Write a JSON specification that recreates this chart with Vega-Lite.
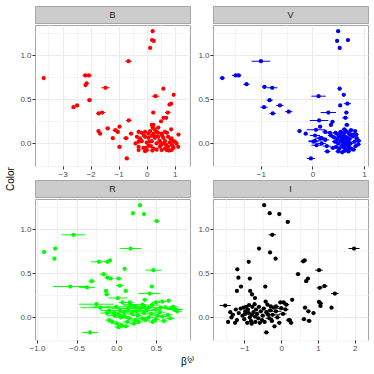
{
"$schema":"https://vega.github.io/schema/vega-lite/v6.json",
"padding":{"left":6,"top":5,"right":3,"bottom":4},
"config":{"font":"Liberation Sans","view":{"stroke":"#A6A6A6"},
"axis":{"labelFontSize":8,"labelColor":"#4D4D4D","tickColor":"#333333","tickSize":3,"domain":false,"grid":true,"labelOverlap":false,"gridColor":{"condition":{"test":"(datum.value*2) % 1 !== 0","value":"#F4F4F4"},"value":"#EBEBEB"},"labelPadding":1,"tickOpacity":{"condition":{"test":"(datum.value*2) % 1 !== 0","value":0},"value":1},"labelExpr":"(datum.value*2) % 1 !== 0 ? '' : datum.label"},
"title":{"fontSize":10,"fontWeight":"normal","color":"#000000"}},
"datasets":{"pts":[
{"b":"B","x":-3.67,"y":0.74,"e":0.03},{"b":"B","x":0.21,"y":1.27,"e":0.03},{"b":"B","x":0.19,"y":1.17,"e":0.03},{"b":"B","x":0.25,"y":1.16,"e":0.03},{"b":"B","x":0.12,"y":1.08,"e":0.03},{"b":"B","x":-0.65,"y":0.93,"e":0.12},{"b":"B","x":-2.19,"y":0.77,"e":0.1},{"b":"B","x":-2.06,"y":0.77,"e":0.1},{"b":"B","x":-2.18,"y":0.66,"e":0.05},{"b":"B","x":-2.14,"y":0.68,"e":0.05},{"b":"B","x":-1.47,"y":0.63,"e":0.15},{"b":"B","x":0.59,"y":0.62,"e":0.05},{"b":"B","x":0.96,"y":0.55,"e":0.04},{"b":"B","x":0.31,"y":0.535,"e":0.14},{"b":"B","x":-2.04,"y":0.49,"e":0.08},{"b":"B","x":-2.61,"y":0.41,"e":0.06},{"b":"B","x":-2.48,"y":0.43,"e":0.05},{"b":"B","x":0.87,"y":0.45,"e":0.06},{"b":"B","x":0.81,"y":0.44,"e":0.06},{"b":"B","x":-1.59,"y":0.35,"e":0.12},{"b":"B","x":-1.71,"y":0.34,"e":0.1},{"b":"B","x":0.23,"y":0.35,"e":0.03},{"b":"B","x":0.75,"y":0.35,"e":0.1},{"b":"B","x":0.69,"y":0.29,"e":0.05},{"b":"B","x":0.6,"y":0.29,"e":0.06},{"b":"B","x":-0.64,"y":0.26,"e":0.1},{"b":"B","x":0.51,"y":0.25,"e":0.04},{"b":"B","x":0.24,"y":0.21,"e":0.04},{"b":"B","x":0.21,"y":0.18,"e":0.04},{"b":"B","x":-1.39,"y":0.17,"e":0.08},{"b":"B","x":-1.72,"y":0.14,"e":0.05},{"b":"B","x":-1.66,"y":0.11,"e":0.06},{"b":"B","x":-0.97,"y":0.19,"e":0.05},{"b":"B","x":-1.12,"y":0.15,"e":0.1},{"b":"B","x":-1.03,"y":0.13,"e":0.05},{"b":"B","x":-0.56,"y":0.11,"e":0.08},{"b":"B","x":-1.21,"y":0.06,"e":0.06},{"b":"B","x":-0.74,"y":0.06,"e":0.1},{"b":"B","x":-0.97,"y":-0.04,"e":0.08},{"b":"B","x":-0.71,"y":-0.17,"e":0.08},{"b":"B","x":0.87,"y":0.16,"e":0.04},{"b":"B","x":1.13,"y":0.1,"e":0.06},{"b":"B","x":0.0,"y":-0.075,"e":0.1},{"b":"B","x":0.41,"y":0.18,"e":0.05},{"b":"B","x":0.18,"y":0.21,"e":0.04},
{"b":"B","x":-0.29,"y":0.13,"e":0.05},{"b":"B","x":-0.18,"y":0.12,"e":0.04},{"b":"B","x":-0.06,"y":0.13,"e":0.05},{"b":"B","x":0.06,"y":0.11,"e":0.04},{"b":"B","x":0.12,"y":0.14,"e":0.04},{"b":"B","x":0.24,"y":0.11,"e":0.05},{"b":"B","x":0.35,"y":0.13,"e":0.04},{"b":"B","x":0.53,"y":0.11,"e":0.05},{"b":"B","x":0.65,"y":0.13,"e":0.04},{"b":"B","x":-0.35,"y":0.075,"e":0.05},{"b":"B","x":-0.24,"y":0.057,"e":0.04},{"b":"B","x":-0.06,"y":0.075,"e":0.05},{"b":"B","x":0.06,"y":0.064,"e":0.04},{"b":"B","x":0.18,"y":0.087,"e":0.04},{"b":"B","x":0.29,"y":0.064,"e":0.05},{"b":"B","x":0.41,"y":0.075,"e":0.04},{"b":"B","x":0.59,"y":0.064,"e":0.05},{"b":"B","x":0.76,"y":0.075,"e":0.04},{"b":"B","x":0.88,"y":0.057,"e":0.05},{"b":"B","x":-0.29,"y":0.02,"e":0.05},{"b":"B","x":-0.18,"y":0.026,"e":0.04},{"b":"B","x":0.0,"y":0.01,"e":0.05},{"b":"B","x":0.18,"y":0.026,"e":0.04},{"b":"B","x":0.35,"y":0.0,"e":0.06},{"b":"B","x":0.47,"y":0.02,"e":0.04},{"b":"B","x":0.65,"y":0.026,"e":0.05},{"b":"B","x":0.82,"y":0.01,"e":0.04},{"b":"B","x":0.94,"y":0.026,"e":0.05},{"b":"B","x":1.06,"y":0.0,"e":0.05},{"b":"B","x":-0.29,"y":-0.038,"e":0.05},{"b":"B","x":-0.12,"y":-0.05,"e":0.04},{"b":"B","x":0.06,"y":-0.026,"e":0.05},{"b":"B","x":0.24,"y":-0.057,"e":0.04},{"b":"B","x":0.47,"y":-0.038,"e":0.05},{"b":"B","x":0.65,"y":-0.057,"e":0.04},{"b":"B","x":0.76,"y":-0.038,"e":0.05},{"b":"B","x":0.94,"y":-0.038,"e":0.04},{"b":"B","x":1.12,"y":-0.038,"e":0.06},{"b":"B","x":-0.29,"y":-0.075,"e":0.05},{"b":"B","x":-0.06,"y":-0.087,"e":0.04},{"b":"B","x":0.53,"y":-0.075,"e":0.05},{"b":"B","x":0.71,"y":-0.075,"e":0.04},{"b":"B","x":0.88,"y":-0.075,"e":0.05},{"b":"B","x":-0.1,"y":0.09,"e":0.04},{"b":"B","x":0.3,"y":0.08,"e":0.05},{"b":"B","x":0.45,"y":0.03,"e":0.04},{"b":"B","x":0.6,"y":0.0,"e":0.05},{"b":"B","x":0.7,"y":-0.02,"e":0.04},{"b":"B","x":0.85,"y":0.05,"e":0.04},{"b":"B","x":0.95,"y":-0.05,"e":0.05},{"b":"B","x":0.35,"y":-0.07,"e":0.05},{"b":"B","x":0.15,"y":-0.03,"e":0.04},{"b":"B","x":-0.2,"y":0.03,"e":0.05},{"b":"B","x":0.55,"y":0.09,"e":0.04},{"b":"B","x":1.0,"y":0.02,"e":0.05},{"b":"B","x":0.8,"y":-0.08,"e":0.04},{"b":"B","x":0.4,"y":0.12,"e":0.05},{"b":"B","x":0.1,"y":0.02,"e":0.04},{"b":"B","x":-0.4,"y":0.0,"e":0.05},{"b":"B","x":0.28,"y":0.16,"e":0.04},{"b":"B","x":0.72,"y":0.12,"e":0.05},{"b":"B","x":0.5,"y":-0.02,"e":0.05},{"b":"B","x":-0.05,"y":-0.05,"e":0.04},{"b":"B","x":0.2,"y":-0.08,"e":0.04},{"b":"B","x":0.9,"y":-0.02,"e":0.05},
{"b":"V","x":-1.75,"y":0.74,"e":0.05},{"b":"V","x":-1.49,"y":0.77,"e":0.07},{"b":"V","x":-1.43,"y":0.77,"e":0.05},{"b":"V","x":-1.0,"y":0.93,"e":0.18},{"b":"V","x":-1.28,"y":0.67,"e":0.06},{"b":"V","x":-0.93,"y":0.64,"e":0.05},{"b":"V","x":-0.78,"y":0.63,"e":0.1},{"b":"V","x":-0.83,"y":0.49,"e":0.06},{"b":"V","x":-0.94,"y":0.41,"e":0.07},{"b":"V","x":-0.63,"y":0.43,"e":0.07},{"b":"V","x":-0.77,"y":0.34,"e":0.06},{"b":"V","x":-0.46,"y":0.36,"e":0.07},{"b":"V","x":0.5,"y":1.27,"e":0.03},{"b":"V","x":0.48,"y":1.16,"e":0.03},{"b":"V","x":0.69,"y":1.17,"e":0.03},{"b":"V","x":0.53,"y":1.08,"e":0.03},{"b":"V","x":0.53,"y":0.62,"e":0.04},{"b":"V","x":0.61,"y":0.55,"e":0.03},{"b":"V","x":0.12,"y":0.535,"e":0.14},{"b":"V","x":0.68,"y":0.45,"e":0.07},{"b":"V","x":0.54,"y":0.43,"e":0.03},{"b":"V","x":0.31,"y":0.35,"e":0.15},{"b":"V","x":0.66,"y":0.35,"e":0.04},{"b":"V","x":0.13,"y":0.26,"e":0.18},{"b":"V","x":0.39,"y":0.245,"e":0.04},{"b":"V","x":0.64,"y":0.29,"e":0.06},{"b":"V","x":0.36,"y":0.21,"e":0.04},{"b":"V","x":0.67,"y":0.21,"e":0.05},{"b":"V","x":-0.25,"y":0.14,"e":0.04},{"b":"V","x":-0.13,"y":0.11,"e":0.04},{"b":"V","x":0.07,"y":0.155,"e":0.18},{"b":"V","x":0.15,"y":0.19,"e":0.04},{"b":"V","x":-0.03,"y":-0.17,"e":0.08},{"b":"V","x":0.08,"y":-0.02,"e":0.1},{"b":"V","x":0.05,"y":0.03,"e":0.12},{"b":"V","x":0.18,"y":0.06,"e":0.1},
{"b":"V","x":0.25,"y":0.13,"e":0.06},{"b":"V","x":0.34,"y":0.12,"e":0.1},{"b":"V","x":0.83,"y":0.14,"e":0.04},{"b":"V","x":0.85,"y":0.1,"e":0.05},{"b":"V","x":0.05,"y":0.09,"e":0.1},{"b":"V","x":0.15,"y":0.06,"e":0.1},{"b":"V","x":0.25,"y":0.04,"e":0.08},{"b":"V","x":0.02,"y":0.02,"e":0.1},{"b":"V","x":0.18,"y":0.0,"e":0.08},{"b":"V","x":0.28,"y":-0.03,"e":0.08},{"b":"V","x":0.29,"y":-0.09,"e":0.06},{"b":"V","x":0.45,"y":0.12,"e":0.05},{"b":"V","x":0.5,"y":0.1,"e":0.06},{"b":"V","x":0.55,"y":0.13,"e":0.05},{"b":"V","x":0.6,"y":0.11,"e":0.06},{"b":"V","x":0.65,"y":0.14,"e":0.05},{"b":"V","x":0.7,"y":0.12,"e":0.06},{"b":"V","x":0.75,"y":0.15,"e":0.05},{"b":"V","x":0.8,"y":0.1,"e":0.05},{"b":"V","x":0.42,"y":0.07,"e":0.06},{"b":"V","x":0.48,"y":0.05,"e":0.05},{"b":"V","x":0.53,"y":0.08,"e":0.06},{"b":"V","x":0.58,"y":0.06,"e":0.05},{"b":"V","x":0.62,"y":0.04,"e":0.05},{"b":"V","x":0.67,"y":0.07,"e":0.06},{"b":"V","x":0.72,"y":0.05,"e":0.05},{"b":"V","x":0.78,"y":0.08,"e":0.06},{"b":"V","x":0.86,"y":0.06,"e":0.05},{"b":"V","x":0.44,"y":0.02,"e":0.06},{"b":"V","x":0.5,"y":0.0,"e":0.05},{"b":"V","x":0.55,"y":0.03,"e":0.06},{"b":"V","x":0.6,"y":0.01,"e":0.05},{"b":"V","x":0.64,"y":-0.01,"e":0.06},{"b":"V","x":0.69,"y":0.02,"e":0.05},{"b":"V","x":0.74,"y":0.0,"e":0.06},{"b":"V","x":0.82,"y":0.02,"e":0.05},{"b":"V","x":0.89,"y":-0.01,"e":0.05},{"b":"V","x":0.46,"y":-0.04,"e":0.06},{"b":"V","x":0.52,"y":-0.06,"e":0.05},{"b":"V","x":0.57,"y":-0.03,"e":0.06},{"b":"V","x":0.62,"y":-0.05,"e":0.05},{"b":"V","x":0.67,"y":-0.07,"e":0.06},{"b":"V","x":0.71,"y":-0.04,"e":0.05},{"b":"V","x":0.76,"y":-0.06,"e":0.06},{"b":"V","x":0.84,"y":-0.03,"e":0.05},{"b":"V","x":0.5,"y":-0.09,"e":0.05},{"b":"V","x":0.58,"y":-0.1,"e":0.05},{"b":"V","x":0.64,"y":-0.08,"e":0.06},{"b":"V","x":0.7,"y":-0.09,"e":0.05},{"b":"V","x":0.8,"y":-0.07,"e":0.05},{"b":"V","x":0.61,"y":0.09,"e":0.05},{"b":"V","x":0.66,"y":0.03,"e":0.05},{"b":"V","x":0.59,"y":-0.02,"e":0.05},{"b":"V","x":0.73,"y":0.1,"e":0.05},{"b":"V","x":0.54,"y":0.11,"e":0.05},{"b":"V","x":0.68,"y":-0.02,"e":0.06},{"b":"V","x":0.36,"y":0.09,"e":0.06},{"b":"V","x":0.4,"y":-0.05,"e":0.06},{"b":"V","x":0.9,"y":0.03,"e":0.05},{"b":"V","x":0.62,"y":0.16,"e":0.05},
{"b":"R","x":-0.91,"y":0.74,"e":0.02},{"b":"R","x":-0.77,"y":0.78,"e":0.02},{"b":"R","x":-0.78,"y":0.665,"e":0.02},{"b":"R","x":-0.54,"y":0.935,"e":0.15},{"b":"R","x":0.3,"y":1.27,"e":0.02},{"b":"R","x":0.21,"y":1.18,"e":0.02},{"b":"R","x":0.35,"y":1.17,"e":0.02},{"b":"R","x":0.51,"y":1.09,"e":0.04},{"b":"R","x":0.18,"y":0.78,"e":0.13},{"b":"R","x":-0.22,"y":0.63,"e":0.1},{"b":"R","x":-0.11,"y":0.63,"e":0.04},{"b":"R","x":-0.08,"y":0.645,"e":0.02},{"b":"R","x":0.105,"y":0.55,"e":0.02},{"b":"R","x":0.47,"y":0.535,"e":0.1},{"b":"R","x":-0.16,"y":0.49,"e":0.05},{"b":"R","x":-0.11,"y":0.45,"e":0.04},{"b":"R","x":-0.07,"y":0.44,"e":0.03},{"b":"R","x":0.03,"y":0.44,"e":0.04},{"b":"R","x":-0.31,"y":0.41,"e":0.04},{"b":"R","x":-0.58,"y":0.35,"e":0.22},{"b":"R","x":-0.37,"y":0.34,"e":0.1},{"b":"R","x":0.045,"y":0.36,"e":0.05},{"b":"R","x":0.45,"y":0.35,"e":0.03},{"b":"R","x":-0.13,"y":0.3,"e":0.03},{"b":"R","x":-0.12,"y":0.26,"e":0.03},{"b":"R","x":0.12,"y":0.3,"e":0.02},{"b":"R","x":0.42,"y":0.27,"e":0.14},{"b":"R","x":0.02,"y":0.22,"e":0.12},{"b":"R","x":0.36,"y":0.2,"e":0.03},{"b":"R","x":-0.33,"y":-0.17,"e":0.1},
{"b":"R","x":-0.25,"y":0.15,"e":0.22},{"b":"R","x":-0.2,"y":0.11,"e":0.25},{"b":"R","x":0.08,"y":0.17,"e":0.05},{"b":"R","x":0.17,"y":0.17,"e":0.05},{"b":"R","x":0.18,"y":0.145,"e":0.1},{"b":"R","x":0.24,"y":0.125,"e":0.05},{"b":"R","x":0.33,"y":0.145,"e":0.05},{"b":"R","x":0.5,"y":0.17,"e":0.05},{"b":"R","x":0.58,"y":0.18,"e":0.05},{"b":"R","x":0.66,"y":0.19,"e":0.04},{"b":"R","x":0.41,"y":0.11,"e":0.1},{"b":"R","x":0.5,"y":0.09,"e":0.06},{"b":"R","x":0.56,"y":0.11,"e":0.05},{"b":"R","x":0.62,"y":0.115,"e":0.05},{"b":"R","x":0.7,"y":0.1,"e":0.08},{"b":"R","x":0.74,"y":0.09,"e":0.1},{"b":"R","x":0.77,"y":0.07,"e":0.06},{"b":"R","x":-0.09,"y":0.076,"e":0.06},{"b":"R","x":-0.03,"y":0.05,"e":0.08},{"b":"R","x":0.03,"y":0.03,"e":0.1},{"b":"R","x":0.1,"y":0.01,"e":0.06},{"b":"R","x":0.16,"y":-0.01,"e":0.05},{"b":"R","x":0.24,"y":-0.03,"e":0.06},{"b":"R","x":0.33,"y":-0.01,"e":0.08},{"b":"R","x":0.41,"y":0.0,"e":0.06},{"b":"R","x":0.5,"y":-0.02,"e":0.05},{"b":"R","x":0.58,"y":0.01,"e":0.08},{"b":"R","x":0.65,"y":0.03,"e":0.06},{"b":"R","x":-0.09,"y":-0.03,"e":0.05},{"b":"R","x":-0.05,"y":-0.05,"e":0.06},{"b":"R","x":0.01,"y":-0.07,"e":0.05},{"b":"R","x":0.07,"y":-0.09,"e":0.05},{"b":"R","x":0.14,"y":-0.05,"e":0.06},{"b":"R","x":0.22,"y":-0.07,"e":0.05},{"b":"R","x":0.28,"y":-0.05,"e":0.06},{"b":"R","x":0.37,"y":-0.03,"e":0.05},{"b":"R","x":0.46,"y":-0.05,"e":0.06},{"b":"R","x":0.12,"y":-0.1,"e":0.05},{"b":"R","x":0.03,"y":-0.11,"e":0.05},{"b":"R","x":0.0,"y":0.12,"e":0.3},{"b":"R","x":0.05,"y":0.08,"e":0.25},{"b":"R","x":0.15,"y":0.1,"e":0.2},{"b":"R","x":0.25,"y":0.07,"e":0.15},{"b":"R","x":0.3,"y":0.1,"e":0.12},{"b":"R","x":0.35,"y":0.05,"e":0.1},{"b":"R","x":0.38,"y":0.08,"e":0.15},{"b":"R","x":0.2,"y":0.04,"e":0.1},{"b":"R","x":0.1,"y":0.06,"e":0.12},{"b":"R","x":0.45,"y":0.14,"e":0.1},{"b":"R","x":0.55,"y":0.06,"e":0.08},{"b":"R","x":0.6,"y":-0.04,"e":0.06},{"b":"R","x":0.68,"y":-0.01,"e":0.06},{"b":"R","x":0.72,"y":0.12,"e":0.06},{"b":"R","x":0.35,"y":0.12,"e":0.08},{"b":"R","x":0.27,"y":0.02,"e":0.06},{"b":"R","x":0.06,"y":0.0,"e":0.08},{"b":"R","x":-0.02,"y":0.02,"e":0.1},{"b":"R","x":0.44,"y":0.04,"e":0.06},{"b":"R","x":0.52,"y":0.02,"e":0.05},{"b":"R","x":0.19,"y":0.13,"e":0.1},{"b":"R","x":-0.12,"y":0.05,"e":0.08},
{"b":"I","x":-0.46,"y":1.27,"e":0.03},{"b":"I","x":-0.31,"y":1.18,"e":0.04},{"b":"I","x":-0.05,"y":1.17,"e":0.03},{"b":"I","x":0.18,"y":1.08,"e":0.05},{"b":"I","x":-0.24,"y":0.935,"e":0.1},{"b":"I","x":-0.6,"y":0.78,"e":0.03},{"b":"I","x":1.98,"y":0.78,"e":0.15},{"b":"I","x":-0.3,"y":0.735,"e":0.03},{"b":"I","x":-0.15,"y":0.665,"e":0.03},{"b":"I","x":-0.88,"y":0.63,"e":0.03},{"b":"I","x":0.6,"y":0.635,"e":0.07},{"b":"I","x":0.64,"y":0.645,"e":0.05},{"b":"I","x":-1.19,"y":0.545,"e":0.03},{"b":"I","x":1.03,"y":0.535,"e":0.1},{"b":"I","x":0.46,"y":0.49,"e":0.06},{"b":"I","x":-1.16,"y":0.45,"e":0.03},{"b":"I","x":-0.85,"y":0.44,"e":0.03},{"b":"I","x":0.73,"y":0.44,"e":0.05},{"b":"I","x":0.68,"y":0.41,"e":0.05},{"b":"I","x":-1.09,"y":0.35,"e":0.04},{"b":"I","x":-0.43,"y":0.35,"e":0.03},{"b":"I","x":1.05,"y":0.335,"e":0.08},{"b":"I","x":1.18,"y":0.355,"e":0.08},{"b":"I","x":-1.2,"y":0.3,"e":0.03},{"b":"I","x":-0.84,"y":0.3,"e":0.04},{"b":"I","x":-0.79,"y":0.26,"e":0.04},{"b":"I","x":1.46,"y":0.27,"e":0.1},{"b":"I","x":0.3,"y":0.2,"e":0.04},{"b":"I","x":1.03,"y":0.175,"e":0.06},{"b":"I","x":1.07,"y":0.16,"e":0.06},{"b":"I","x":1.07,"y":0.13,"e":0.05},{"b":"I","x":1.37,"y":0.11,"e":0.04},{"b":"I","x":-1.52,"y":0.135,"e":0.15},{"b":"I","x":-0.4,"y":-0.17,"e":0.07},{"b":"I","x":-0.18,"y":-0.1,"e":0.05},{"b":"I","x":0.21,"y":-0.03,"e":0.08},{"b":"I","x":0.62,"y":-0.02,"e":0.06},{"b":"I","x":0.76,"y":-0.04,"e":0.07},{"b":"I","x":-0.71,"y":0.22,"e":0.04},
{"b":"I","x":-1.23,"y":0.09,"e":0.04},{"b":"I","x":-1.31,"y":0.03,"e":0.04},{"b":"I","x":-1.44,"y":-0.05,"e":0.04},{"b":"I","x":-1.35,"y":0.0,"e":0.04},{"b":"I","x":-1.2,"y":-0.03,"e":0.04},{"b":"I","x":-1.02,"y":0.11,"e":0.05},{"b":"I","x":-0.97,"y":0.07,"e":0.05},{"b":"I","x":-0.88,"y":0.05,"e":0.05},{"b":"I","x":-0.8,"y":0.03,"e":0.05},{"b":"I","x":-0.71,"y":0.01,"e":0.05},{"b":"I","x":-0.62,"y":-0.01,"e":0.05},{"b":"I","x":-0.52,"y":-0.03,"e":0.05},{"b":"I","x":-0.42,"y":0.18,"e":0.04},{"b":"I","x":-0.37,"y":0.145,"e":0.05},{"b":"I","x":-0.28,"y":0.125,"e":0.06},{"b":"I","x":-0.14,"y":0.125,"e":0.08},{"b":"I","x":-0.02,"y":0.17,"e":0.05},{"b":"I","x":0.07,"y":0.17,"e":0.04},{"b":"I","x":0.14,"y":0.145,"e":0.08},{"b":"I","x":0.0,"y":0.105,"e":0.15},{"b":"I","x":-0.14,"y":0.07,"e":0.15},{"b":"I","x":-0.23,"y":0.03,"e":0.2},{"b":"I","x":-0.32,"y":-0.01,"e":0.1},{"b":"I","x":0.23,"y":-0.03,"e":0.06},{"b":"I","x":0.65,"y":0.11,"e":0.06},{"b":"I","x":0.74,"y":0.07,"e":0.06},{"b":"I","x":0.88,"y":0.05,"e":0.05},{"b":"I","x":-1.1,"y":0.1,"e":0.04},{"b":"I","x":-1.05,"y":0.02,"e":0.04},{"b":"I","x":-1.0,"y":-0.02,"e":0.05},{"b":"I","x":-0.95,"y":0.12,"e":0.04},{"b":"I","x":-0.92,"y":-0.06,"e":0.05},{"b":"I","x":-0.9,"y":0.09,"e":0.04},{"b":"I","x":-0.85,"y":0.0,"e":0.05},{"b":"I","x":-0.82,"y":-0.04,"e":0.05},{"b":"I","x":-0.78,"y":0.12,"e":0.05},{"b":"I","x":-0.75,"y":0.06,"e":0.05},{"b":"I","x":-0.7,"y":-0.05,"e":0.05},{"b":"I","x":-0.68,"y":0.09,"e":0.05},{"b":"I","x":-0.65,"y":0.04,"e":0.05},{"b":"I","x":-0.6,"y":0.12,"e":0.06},{"b":"I","x":-0.58,"y":-0.06,"e":0.05},{"b":"I","x":-0.55,"y":0.07,"e":0.06},{"b":"I","x":-0.5,"y":0.02,"e":0.06},{"b":"I","x":-0.47,"y":0.1,"e":0.05},{"b":"I","x":-0.45,"y":-0.05,"e":0.05},{"b":"I","x":-0.4,"y":0.06,"e":0.06},{"b":"I","x":-0.35,"y":0.03,"e":0.06},{"b":"I","x":-0.3,"y":0.08,"e":0.08},{"b":"I","x":-0.25,"y":-0.04,"e":0.06},{"b":"I","x":-0.2,"y":0.11,"e":0.1},{"b":"I","x":-0.1,"y":0.0,"e":0.08},{"b":"I","x":-0.05,"y":-0.06,"e":0.06},{"b":"I","x":0.05,"y":0.04,"e":0.1},{"b":"I","x":0.12,"y":0.09,"e":0.08},{"b":"I","x":-1.15,"y":0.05,"e":0.04},{"b":"I","x":-1.25,"y":-0.06,"e":0.04},{"b":"I","x":-0.98,"y":0.04,"e":0.05},{"b":"I","x":-0.87,"y":0.14,"e":0.04},{"b":"I","x":-0.72,"y":0.15,"e":0.05},{"b":"I","x":0.27,"y":-0.06,"e":0.06},{"b":"I","x":-0.8,"y":-0.07,"e":0.05},{"b":"I","x":-1.38,"y":0.06,"e":0.04}
]},
"title":{"text":"β⁽²⁾","orient":"bottom","anchor":"middle","offset":4},
"vconcat":[{
"title":{"text":"Color","orient":"left","anchor":"middle","offset":3},
"columns":2,
"spacing":{"row":0,"column":6},
"concat":[
{"spacing":0,"vconcat":[
 {"width":155,"height":17,"data":{"values":[{"p":"B"}]},"mark":{"type":"text","fontSize":9,"color":"#1A1A1A"},"encoding":{"text":{"field":"p"}},"view":{"fill":"#CCCCCC","stroke":"#A6A6A6"}},
 {"width":155,"height":141,"data":{"name":"pts"},"transform":[{"filter":"datum.b==='B'"}],
  "encoding":{"x":{"field":"x","type":"quantitative","title":null,"scale":{"domain":[-3.98,1.54],"nice":false,"zero":false},"axis":{"title":null,"values":[-3.5,-3,-2.5,-2,-1.5,-1,-0.5,0,0.5,1,1.5],"format":".1f","gridColor":{"condition":{"test":"abs(datum.value - round(datum.value)) > 0.01","value":"#F4F4F4"},"value":"#EBEBEB"},"tickOpacity":{"condition":{"test":"abs(datum.value - round(datum.value)) > 0.01","value":0},"value":1},"labelExpr":"abs(datum.value - round(datum.value)) > 0.01 ? '' : format(datum.value, 'd')"}},
   "y":{"field":"y","type":"quantitative","title":null,"scale":{"domain":[-0.255,1.34],"nice":false,"zero":false},"axis":{"title":null,"values":[-0.25,0,0.25,0.5,0.75,1,1.25],"format":".1f"}}},
  "layer":[{"mark":{"type":"errorbar","color":"#FF0000","thickness":1},"encoding":{"xError":{"field":"e"}}},
   {"mark":{"type":"circle","color":"#FF0000","size":18,"opacity":1}}]}
]},
{"spacing":0,"vconcat":[
 {"width":155,"height":17,"data":{"values":[{"p":"V"}]},"mark":{"type":"text","fontSize":9,"color":"#1A1A1A"},"encoding":{"text":{"field":"p"}},"view":{"fill":"#CCCCCC","stroke":"#A6A6A6"}},
 {"width":155,"height":141,"data":{"name":"pts"},"transform":[{"filter":"datum.b==='V'"}],
  "encoding":{"x":{"field":"x","type":"quantitative","title":null,"scale":{"domain":[-1.93,1.08],"nice":false,"zero":false},"axis":{"title":null,"values":[-1.5,-1,-0.5,0,0.5,1],"format":".1f","gridColor":{"condition":{"test":"abs(datum.value - round(datum.value)) > 0.01","value":"#F4F4F4"},"value":"#EBEBEB"},"tickOpacity":{"condition":{"test":"abs(datum.value - round(datum.value)) > 0.01","value":0},"value":1},"labelExpr":"abs(datum.value - round(datum.value)) > 0.01 ? '' : format(datum.value, 'd')"}},
   "y":{"field":"y","type":"quantitative","title":null,"scale":{"domain":[-0.255,1.34],"nice":false,"zero":false},"axis":{"title":null,"values":[-0.25,0,0.25,0.5,0.75,1,1.25],"format":".1f"}}},
  "layer":[{"mark":{"type":"errorbar","color":"#0000FF","thickness":1},"encoding":{"xError":{"field":"e"}}},
   {"mark":{"type":"circle","color":"#0000FF","size":18,"opacity":1}}]}
]},
{"spacing":0,"vconcat":[
 {"width":155,"height":17,"data":{"values":[{"p":"R"}]},"mark":{"type":"text","fontSize":9,"color":"#1A1A1A"},"encoding":{"text":{"field":"p"}},"view":{"fill":"#CCCCCC","stroke":"#A6A6A6"}},
 {"width":155,"height":141,"data":{"name":"pts"},"transform":[{"filter":"datum.b==='R'"}],
  "encoding":{"x":{"field":"x","type":"quantitative","title":null,"scale":{"domain":[-1.025,0.93],"nice":false,"zero":false},"axis":{"title":null,"values":[-1,-0.75,-0.5,-0.25,0,0.25,0.5,0.75],"format":".1f","gridColor":{"condition":{"test":"(datum.value*2) % 1 !== 0","value":"#F4F4F4"},"value":"#EBEBEB"},"tickOpacity":{"condition":{"test":"(datum.value*2) % 1 !== 0","value":0},"value":1},"labelExpr":"(datum.value*2) % 1 !== 0 ? '' : datum.label"}},
   "y":{"field":"y","type":"quantitative","title":null,"scale":{"domain":[-0.255,1.34],"nice":false,"zero":false},"axis":{"title":null,"values":[-0.25,0,0.25,0.5,0.75,1,1.25],"format":".1f"}}},
  "layer":[{"mark":{"type":"errorbar","color":"#00FF00","thickness":1},"encoding":{"xError":{"field":"e"}}},
   {"mark":{"type":"circle","color":"#00FF00","size":18,"opacity":1}}]}
]},
{"spacing":0,"vconcat":[
 {"width":155,"height":17,"data":{"values":[{"p":"I"}]},"mark":{"type":"text","fontSize":9,"color":"#1A1A1A"},"encoding":{"text":{"field":"p"}},"view":{"fill":"#CCCCCC","stroke":"#A6A6A6"}},
 {"width":155,"height":141,"data":{"name":"pts"},"transform":[{"filter":"datum.b==='I'"}],
  "encoding":{"x":{"field":"x","type":"quantitative","title":null,"scale":{"domain":[-1.85,2.36],"nice":false,"zero":false},"axis":{"title":null,"values":[-1.5,-1,-0.5,0,0.5,1,1.5,2],"format":".1f","gridColor":{"condition":{"test":"abs(datum.value - round(datum.value)) > 0.01","value":"#F4F4F4"},"value":"#EBEBEB"},"tickOpacity":{"condition":{"test":"abs(datum.value - round(datum.value)) > 0.01","value":0},"value":1},"labelExpr":"abs(datum.value - round(datum.value)) > 0.01 ? '' : format(datum.value, 'd')"}},
   "y":{"field":"y","type":"quantitative","title":null,"scale":{"domain":[-0.255,1.34],"nice":false,"zero":false},"axis":{"title":null,"values":[-0.25,0,0.25,0.5,0.75,1,1.25],"format":".1f"}}},
  "layer":[{"mark":{"type":"errorbar","color":"#000000","thickness":1},"encoding":{"xError":{"field":"e"}}},
   {"mark":{"type":"circle","color":"#000000","size":18,"opacity":1}}]}
]}
]}]
}
